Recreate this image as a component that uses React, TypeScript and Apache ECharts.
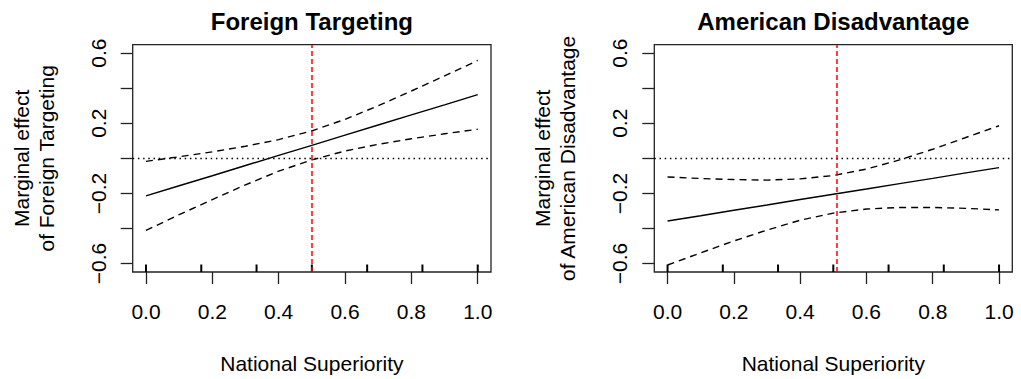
import React, { useEffect, useRef } from "react";
import * as echarts from "echarts";

// ---- data ----
const xs = [0, 0.1, 0.2, 0.3, 0.4, 0.5, 0.6, 0.7, 0.8, 0.9, 1.0];

const ftMean = [-0.214, -0.156, -0.099, -0.041, 0.017, 0.074, 0.132, 0.19, 0.248, 0.305, 0.363];
const ftUpper = [-0.017, 0.009, 0.037, 0.069, 0.107, 0.157, 0.222, 0.3, 0.384, 0.47, 0.558];
const ftLower = [-0.411, -0.321, -0.235, -0.151, -0.073, -0.009, 0.042, 0.08, 0.112, 0.14, 0.166];

const adMean = [-0.357, -0.327, -0.296, -0.266, -0.235, -0.205, -0.175, -0.144, -0.114, -0.083, -0.053];
const adUpper = [-0.106, -0.115, -0.121, -0.124, -0.117, -0.098, -0.061, -0.009, 0.052, 0.119, 0.186];
const adLower = [-0.608, -0.539, -0.471, -0.409, -0.353, -0.312, -0.289, -0.28, -0.28, -0.285, -0.294];

const rugValues = [0, 0.1667, 0.3333, 0.5, 0.6667, 0.8333, 1.0];
const ftRefX = 0.5;
const adRefX = 0.51;

const xTicks = [0, 0.2, 0.4, 0.6, 0.8, 1.0];
const yTicks = [-0.6, -0.4, -0.2, 0, 0.2, 0.4, 0.6];
const yLabelValues = [-0.6, -0.2, 0.2, 0.6];

const titles = ["Foreign Targeting", "American Disadvantage"];
const yNames = ["Marginal effect\nof Foreign Targeting", "Marginal effect\nof American Disadvantage"];
const xName = "National Superiority";

const X_MIN = -0.04;
const X_MAX = 1.04;
const Y_MIN = -0.648;
const Y_MAX = 0.648;

const FONT = '"Liberation Sans", Arial, Helvetica, sans-serif';
const AXIS_COLOR = "#222";

const grids = [
  { left: 132.7, top: 44.7, width: 358.3, height: 230.6 },
  { left: 654.3, top: 44.7, width: 358, height: 230.6 },
];

function pairs(vals: number[]) {
  return xs.map((x, i) => [x, vals[i]]);
}

function buildOption() {
  const panels = [
    { mean: ftMean, upper: ftUpper, lower: ftLower, ref: ftRefX },
    { mean: adMean, upper: adUpper, lower: adLower, ref: adRefX },
  ];

  const grid = grids.map((g) => ({
    ...g,
    show: true,
    borderColor: AXIS_COLOR,
    borderWidth: 1.3,
    backgroundColor: "transparent",
    containLabel: false,
  }));

  const xAxis = grids.map((_, i) => ({
    type: "value",
    gridIndex: i,
    min: X_MIN,
    max: X_MAX,
    position: "bottom",
    axisLine: { show: false, onZero: false },
    splitLine: { show: false },
    axisTick: {
      show: true,
      length: 12,
      customValues: xTicks,
      lineStyle: { color: AXIS_COLOR, width: 1.3 },
    },
    axisLabel: {
      show: true,
      customValues: xTicks,
      formatter: (v: number) => v.toFixed(1),
      fontFamily: FONT,
      fontSize: 21,
      color: "#000",
      margin: 29,
    },
    name: xName,
    nameLocation: "middle",
    nameGap: 81,
    nameTextStyle: { fontFamily: FONT, fontSize: 21, color: "#000" },
  }));

  const yAxis = grids.map((_, i) => ({
    type: "value",
    gridIndex: i,
    min: Y_MIN,
    max: Y_MAX,
    position: "left",
    axisLine: { show: false, onZero: false },
    splitLine: { show: false },
    axisTick: {
      show: true,
      length: 12,
      customValues: yTicks,
      lineStyle: { color: AXIS_COLOR, width: 1.3 },
    },
    axisLabel: {
      show: true,
      customValues: yLabelValues,
      rotate: 90,
      formatter: (v: number) => (v < 0 ? "\u2212" + Math.abs(v).toFixed(1) : v.toFixed(1)),
      fontFamily: FONT,
      fontSize: 21,
      color: "#000",
      margin: 24,
    },
    name: yNames[i],
    nameLocation: "middle",
    nameRotate: 90,
    nameGap: 74,
    nameTextStyle: { fontFamily: FONT, fontSize: 21, color: "#000", lineHeight: 25 },
  }));

  const series: any[] = [];
  panels.forEach((p, i) => {
    series.push({
      type: "line",
      xAxisIndex: i,
      yAxisIndex: i,
      data: pairs(p.mean),
      symbol: "none",
      lineStyle: { color: "#000", width: 1.4 },
      z: 3,
      markLine: {
        silent: true,
        symbol: "none",
        label: { show: false },
        data: [
          { yAxis: 0, lineStyle: { color: "#000", width: 1.3, type: [1.5, 3.7] } },
          { xAxis: p.ref, lineStyle: { color: "#ff0000", width: 1.5, type: [5, 3] } },
        ],
      },
    });
    series.push({
      type: "line",
      xAxisIndex: i,
      yAxisIndex: i,
      data: pairs(p.upper),
      symbol: "none",
      lineStyle: { color: "#000", width: 1.4, type: [7, 5] },
      z: 3,
    });
    series.push({
      type: "line",
      xAxisIndex: i,
      yAxisIndex: i,
      data: pairs(p.lower),
      symbol: "none",
      lineStyle: { color: "#000", width: 1.4, type: [7, 5] },
      z: 3,
    });
    series.push({
      type: "custom",
      xAxisIndex: i,
      yAxisIndex: i,
      data: rugValues.map((v) => [v]),
      encode: { x: 0 },
      z: 4,
      renderItem: (params: any, api: any) => {
        const pt = api.coord([api.value(0), Y_MIN]);
        return {
          type: "line",
          shape: { x1: pt[0], y1: pt[1], x2: pt[0], y2: pt[1] - 7.5 },
          style: { stroke: "#000", lineWidth: 2 },
        };
      },
    });
  });

  const graphic = grids.map((g, i) => ({
    type: "text",
    x: g.left + g.width / 2,
    y: 21,
    style: {
      text: titles[i],
      fontFamily: FONT,
      fontSize: 24,
      fontWeight: "bold",
      fill: "#000",
      align: "center",
      verticalAlign: "middle",
    },
  }));

  return {
    animation: false,
    backgroundColor: "#fff",
    grid,
    xAxis,
    yAxis,
    series,
    graphic,
  };
}

export default function App() {
  const ref = useRef<HTMLDivElement>(null);
  useEffect(() => {
    if (!ref.current) return;
    const chart = echarts.init(ref.current, undefined, { renderer: "svg" });
    chart.setOption(buildOption() as any);
    return () => chart.dispose();
  }, []);
  return (
    <div
      ref={ref}
      style={{ position: "fixed", left: 0, top: 0, width: 1021, height: 379, background: "#fff" }}
    />
  );
}
